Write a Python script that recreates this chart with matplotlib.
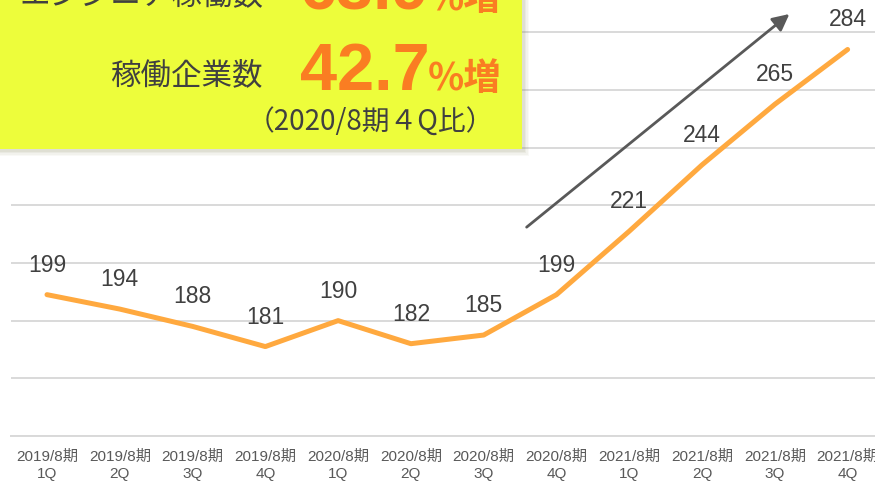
import matplotlib
matplotlib.use("Agg")
import matplotlib.pyplot as plt
from matplotlib.patches import Rectangle

# data
periods = ["2019/8期", "2019/8期", "2019/8期", "2019/8期",
           "2020/8期", "2020/8期", "2020/8期", "2020/8期",
           "2021/8期", "2021/8期", "2021/8期", "2021/8期"]
quarters = ["1Q", "2Q", "3Q", "4Q"] * 3
companies = [199, 194, 188, 181, 190, 182, 185, 199, 221, 244, 265, 284]

W, H = 875, 485
fig = plt.figure(figsize=(W / 100, H / 100), dpi=100)

# axes spans a little past the right edge, like the cropped original
ax = fig.add_axes([10.6 / W, 48 / H, (884 - 10.6) / W, (H - 48) / H])
x = list(range(len(companies)))
ax.plot(x, companies, color="#FFA93F", lw=3.6, solid_capstyle="round",
        solid_joinstyle="round", zorder=3)

for xi, v in zip(x, companies):
    ax.annotate(str(v), (xi, v), xytext=(0, 22), textcoords="offset points",
                ha="center", va="center", fontsize=16.5, color="#404040",
                family=["Liberation Sans", "DejaVu Sans"], zorder=4)

ax.set_xlim(-0.5, len(companies) - 0.5)
ax.set_ylim(150, 301.5)
ax.set_yticks(range(150, 300, 20))
ax.grid(axis="y", color="#D9D9D9", lw=1.4)
ax.tick_params(axis="y", length=0, labelleft=False)
ax.tick_params(axis="x", length=0, pad=9)
ax.set_xticks(x)
ax.set_xticklabels([f"{p}\n{q}" for p, q in zip(periods, quarters)],
                   fontsize=11, color="#595959", linespacing=1.35,
                   family=["Liberation Sans", "Noto Sans CJK JP"])
for s in ["top", "right", "left"]:
    ax.spines[s].set_visible(False)
ax.spines["bottom"].set_color("#D9D9D9")
ax.spines["bottom"].set_linewidth(1.4)

# trend arrow
ax.annotate("", xy=(10.2, 296.3), xytext=(6.59, 222.4),
            arrowprops=dict(arrowstyle="-|>,head_length=1.0,head_width=0.5",
                            color="#595959", lw=2.0, shrinkA=0, shrinkB=0),
            zorder=5)

# callout box with soft shadow
def fx(px):
    return px / W

def fy(py):
    return 1 - py / H

for i, a in enumerate([0.05, 0.06, 0.08, 0.10]):
    off = 7 - i * 1.5
    fig.patches.append(Rectangle((fx(0), fy(150 + off)), fx(522 + off), 150 / H + off / H,
                                 transform=fig.transFigure, facecolor="#8A8A60",
                                 alpha=a, edgecolor="none", zorder=1))
fig.patches.append(Rectangle((fx(0), fy(150)), fx(522), 150 / H + 0.01,
                             transform=fig.transFigure, facecolor="#EDFD3B",
                             edgecolor="none", zorder=2))

jp = ["Noto Sans CJK JP", "DejaVu Sans"]
num = ["Liberation Sans", "DejaVu Sans"]
orange = "#FA7D22"
dark = "#404040"

fig.text(fx(263), fy(-4), "エンジニア稼働数", ha="right", va="center",
         fontsize=22, color=dark, family=jp, zorder=3)
fig.text(fx(300), fy(10), "63.9", ha="left", va="baseline", fontsize=48,
         fontweight="bold", color=orange, family=num, zorder=3)
fig.text(fx(428), fy(10), "%増", ha="left", va="baseline", fontsize=27,
         fontweight="bold", color=orange, family=jp, zorder=3)

fig.text(fx(263), fy(76), "稼働企業数", ha="right", va="center",
         fontsize=22, color=dark, family=jp, zorder=3)
fig.text(fx(300), fy(90), "42.7", ha="left", va="baseline", fontsize=48,
         fontweight="bold", color=orange, family=num, zorder=3)
fig.text(fx(428), fy(90), "%増", ha="left", va="baseline", fontsize=27,
         fontweight="bold", color=orange, family=jp, zorder=3)

fig.text(fx(494), fy(122), "（2020/8期４Q比）", ha="right", va="center",
         fontsize=20, color=dark, family=jp, zorder=3)

fig.savefig("out.png", dpi=100)
